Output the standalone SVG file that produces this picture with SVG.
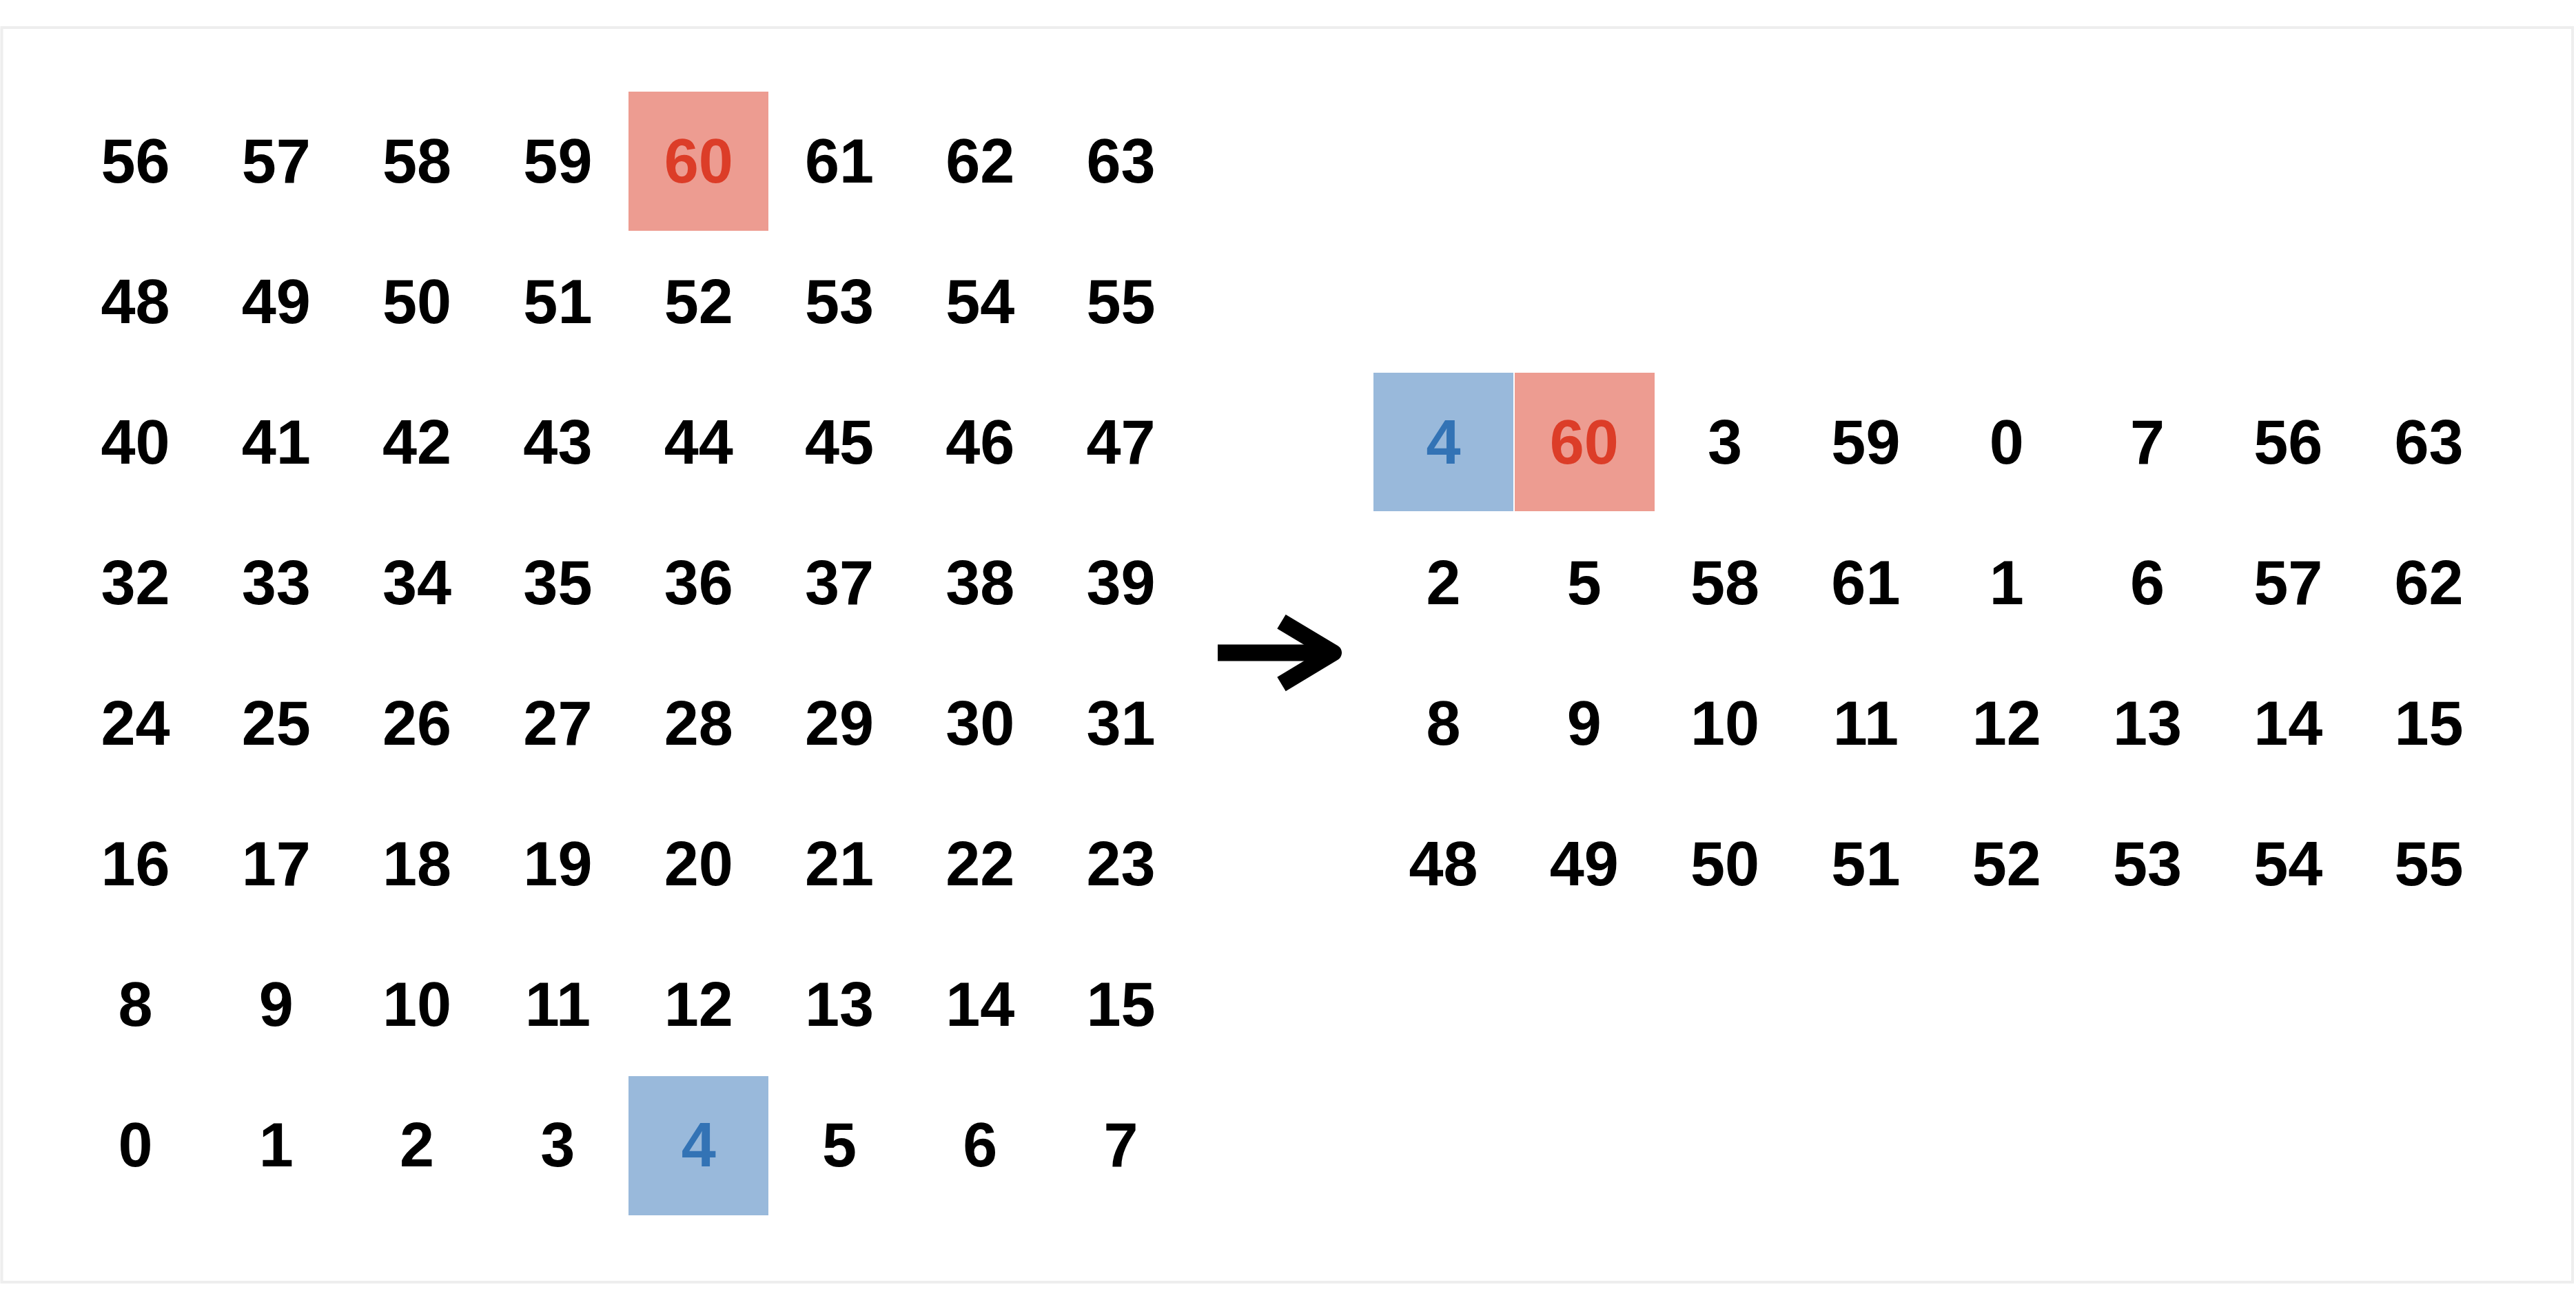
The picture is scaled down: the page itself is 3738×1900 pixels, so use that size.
<svg xmlns="http://www.w3.org/2000/svg" width="3738" height="1900" viewBox="0 0 3738 1900">
<style>
text{font-family:"Liberation Sans",Arial,sans-serif;font-weight:bold;font-size:90px;text-anchor:middle;fill:#000}
.r{fill:#DC3D28}
.b{fill:#3373B5}
.rr{fill:#ED9C91}
.br{fill:#99B9DB}
</style>
<rect x="2.5" y="40" width="3730.5" height="1821" fill="#fff" stroke="#eeeeee" stroke-width="4"/>
<g id="left-grid">
<rect id="hl-60" class="rr" x="912" y="133" width="203" height="202"/>
<rect id="hl-4" class="br" x="912" y="1562" width="203" height="202"/>
<g id="lrow0"><text x="196.5" y="265">56</text><text x="400.8" y="265">57</text><text x="605.1" y="265">58</text><text x="809.4" y="265">59</text><text class="r" x="1013.7" y="265">60</text><text x="1218" y="265">61</text><text x="1422.3" y="265">62</text><text x="1626.6" y="265">63</text></g>
<g id="lrow1"><text x="196.5" y="469">48</text><text x="400.8" y="469">49</text><text x="605.1" y="469">50</text><text x="809.4" y="469">51</text><text x="1013.7" y="469">52</text><text x="1218" y="469">53</text><text x="1422.3" y="469">54</text><text x="1626.6" y="469">55</text></g>
<g id="lrow2"><text x="196.5" y="673">40</text><text x="400.8" y="673">41</text><text x="605.1" y="673">42</text><text x="809.4" y="673">43</text><text x="1013.7" y="673">44</text><text x="1218" y="673">45</text><text x="1422.3" y="673">46</text><text x="1626.6" y="673">47</text></g>
<g id="lrow3"><text x="196.5" y="877">32</text><text x="400.8" y="877">33</text><text x="605.1" y="877">34</text><text x="809.4" y="877">35</text><text x="1013.7" y="877">36</text><text x="1218" y="877">37</text><text x="1422.3" y="877">38</text><text x="1626.6" y="877">39</text></g>
<g id="lrow4"><text x="196.5" y="1081">24</text><text x="400.8" y="1081">25</text><text x="605.1" y="1081">26</text><text x="809.4" y="1081">27</text><text x="1013.7" y="1081">28</text><text x="1218" y="1081">29</text><text x="1422.3" y="1081">30</text><text x="1626.6" y="1081">31</text></g>
<g id="lrow5"><text x="196.5" y="1285">16</text><text x="400.8" y="1285">17</text><text x="605.1" y="1285">18</text><text x="809.4" y="1285">19</text><text x="1013.7" y="1285">20</text><text x="1218" y="1285">21</text><text x="1422.3" y="1285">22</text><text x="1626.6" y="1285">23</text></g>
<g id="lrow6"><text x="196.5" y="1489">8</text><text x="400.8" y="1489">9</text><text x="605.1" y="1489">10</text><text x="809.4" y="1489">11</text><text x="1013.7" y="1489">12</text><text x="1218" y="1489">13</text><text x="1422.3" y="1489">14</text><text x="1626.6" y="1489">15</text></g>
<g id="lrow7"><text x="196.5" y="1693">0</text><text x="400.8" y="1693">1</text><text x="605.1" y="1693">2</text><text x="809.4" y="1693">3</text><text class="b" x="1013.7" y="1693">4</text><text x="1218" y="1693">5</text><text x="1422.3" y="1693">6</text><text x="1626.6" y="1693">7</text></g>
</g>
<g id="connectors">
<path d="M1767 947.5H1930" stroke="#000" stroke-width="24" fill="none"/>
<polyline points="1859.5,902.2 1935,947.5 1859.5,993" stroke="#000" stroke-width="24" fill="none" stroke-linejoin="round"/>
</g>
<g id="right-grid">
<rect id="hl-r4" class="br" x="1993" y="541" width="203" height="201"/>
<rect id="hl-r60" class="rr" x="2198" y="541" width="203" height="201"/>
<g id="rrow0"><text class="b" x="2094.5" y="673">4</text><text class="r" x="2298.8" y="673">60</text><text x="2503.1" y="673">3</text><text x="2707.4" y="673">59</text><text x="2911.7" y="673">0</text><text x="3116" y="673">7</text><text x="3320.3" y="673">56</text><text x="3524.6" y="673">63</text></g>
<g id="rrow1"><text x="2094.5" y="877">2</text><text x="2298.8" y="877">5</text><text x="2503.1" y="877">58</text><text x="2707.4" y="877">61</text><text x="2911.7" y="877">1</text><text x="3116" y="877">6</text><text x="3320.3" y="877">57</text><text x="3524.6" y="877">62</text></g>
<g id="rrow2"><text x="2094.5" y="1081">8</text><text x="2298.8" y="1081">9</text><text x="2503.1" y="1081">10</text><text x="2707.4" y="1081">11</text><text x="2911.7" y="1081">12</text><text x="3116" y="1081">13</text><text x="3320.3" y="1081">14</text><text x="3524.6" y="1081">15</text></g>
<g id="rrow3"><text x="2094.5" y="1285">48</text><text x="2298.8" y="1285">49</text><text x="2503.1" y="1285">50</text><text x="2707.4" y="1285">51</text><text x="2911.7" y="1285">52</text><text x="3116" y="1285">53</text><text x="3320.3" y="1285">54</text><text x="3524.6" y="1285">55</text></g>
</g>
</svg>
